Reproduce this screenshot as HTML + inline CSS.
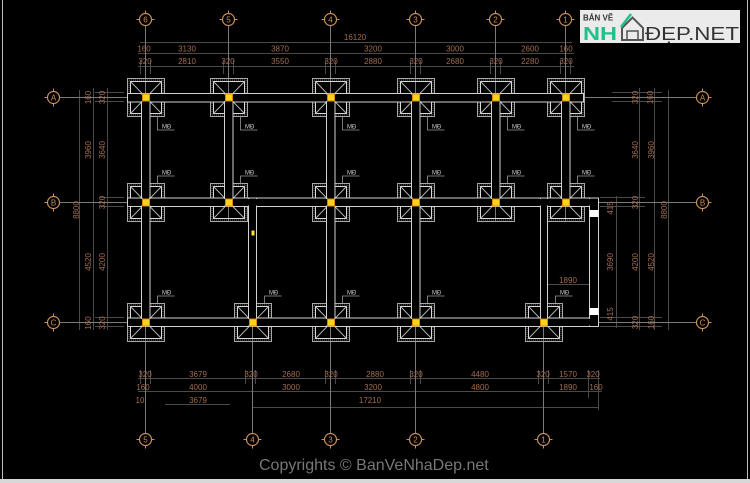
<!DOCTYPE html>
<html><head><meta charset="utf-8"><style>
html,body{margin:0;padding:0;background:#000;}
svg{display:block;}
</style></head><body>
<svg width="750" height="483" viewBox="0 0 750 483" xmlns="http://www.w3.org/2000/svg" font-family="Liberation Sans, sans-serif">
<rect width="750" height="483" fill="#000"/>
<rect x="0" y="479" width="750" height="4" fill="#d8d8d8"/>
<line x1="2.5" y1="0" x2="2.5" y2="479" stroke="#bdbdbd"/>
<line x1="747.5" y1="0" x2="747.5" y2="479" stroke="#bdbdbd"/>

<!-- dimension lines -->
<g stroke="#4a4a4a" stroke-width="1">
<line x1="140" y1="42.5" x2="572" y2="42.5"/>
<line x1="138" y1="53.5" x2="574" y2="53.5"/>
<line x1="138" y1="66.5" x2="574" y2="66.5"/>
<line x1="138" y1="378.5" x2="600" y2="378.5"/>
<line x1="138" y1="391.5" x2="602" y2="391.5"/>
<line x1="165" y1="404.5" x2="230" y2="404.5"/>
<line x1="253" y1="407.5" x2="598" y2="407.5"/>
<line x1="79.5" y1="90" x2="79.5" y2="330"/>
<line x1="93.5" y1="88" x2="93.5" y2="330"/>
<line x1="107.5" y1="88" x2="107.5" y2="330"/>
<line x1="616.5" y1="196" x2="616.5" y2="328"/>
<line x1="639.5" y1="88" x2="639.5" y2="330"/>
<line x1="654.5" y1="88" x2="654.5" y2="330"/>
<line x1="668.5" y1="90" x2="668.5" y2="330"/>
<!-- beam edge extension ticks -->
<line x1="95" y1="92.5" x2="124" y2="92.5"/><line x1="95" y1="101.5" x2="124" y2="101.5"/>
<line x1="100" y1="197.5" x2="124" y2="197.5"/><line x1="100" y1="206.5" x2="124" y2="206.5"/>
<line x1="95" y1="317.5" x2="124" y2="317.5"/><line x1="95" y1="326.5" x2="124" y2="326.5"/>
<line x1="612" y1="92.5" x2="662" y2="92.5"/><line x1="612" y1="101.5" x2="662" y2="101.5"/>
<line x1="600" y1="197.5" x2="645" y2="197.5"/><line x1="600" y1="206.5" x2="645" y2="206.5"/>
<line x1="600" y1="317.5" x2="662" y2="317.5"/><line x1="600" y1="326.5" x2="662" y2="326.5"/>
<!-- column edge ticks top -->
<g>
<line x1="140.5" y1="60" x2="140.5" y2="74"/><line x1="150.5" y1="60" x2="150.5" y2="74"/>
<line x1="223.5" y1="60" x2="223.5" y2="74"/><line x1="233.5" y1="60" x2="233.5" y2="74"/>
<line x1="325.5" y1="60" x2="325.5" y2="74"/><line x1="335.5" y1="60" x2="335.5" y2="74"/>
<line x1="410.5" y1="60" x2="410.5" y2="74"/><line x1="420.5" y1="60" x2="420.5" y2="74"/>
<line x1="490.5" y1="60" x2="490.5" y2="74"/><line x1="500.5" y1="60" x2="500.5" y2="74"/>
<line x1="560.5" y1="60" x2="560.5" y2="74"/><line x1="570.5" y1="60" x2="570.5" y2="74"/>
</g>
<g>
<line x1="140.5" y1="370" x2="140.5" y2="384"/><line x1="150.5" y1="370" x2="150.5" y2="384"/>
<line x1="245.5" y1="370" x2="245.5" y2="384"/><line x1="255.5" y1="370" x2="255.5" y2="384"/>
<line x1="325.5" y1="370" x2="325.5" y2="384"/><line x1="335.5" y1="370" x2="335.5" y2="384"/>
<line x1="410.5" y1="370" x2="410.5" y2="384"/><line x1="420.5" y1="370" x2="420.5" y2="384"/>
<line x1="538.5" y1="370" x2="538.5" y2="384"/><line x1="548.5" y1="370" x2="548.5" y2="384"/>
<line x1="588.5" y1="370" x2="588.5" y2="398"/><line x1="598.5" y1="370" x2="598.5" y2="410"/>
</g>
<!-- 1890 inner dim -->
<line x1="543" y1="284.5" x2="594" y2="284.5"/>
</g>

<!-- axis lines -->
<g stroke="#7a7a7a" stroke-width="1">
<line x1="145.5" y1="25" x2="145.5" y2="433"/>
<line x1="228.5" y1="25" x2="228.5" y2="221"/>
<line x1="330.5" y1="25" x2="330.5" y2="433"/>
<line x1="415.5" y1="25" x2="415.5" y2="433"/>
<line x1="495.5" y1="25" x2="495.5" y2="221"/>
<line x1="565.5" y1="25" x2="565.5" y2="221"/>
<line x1="252.5" y1="207" x2="252.5" y2="433"/>
<line x1="543.5" y1="207" x2="543.5" y2="433"/>
<line x1="59" y1="97.5" x2="696" y2="97.5"/>
<line x1="59" y1="202.5" x2="696" y2="202.5"/>
<line x1="59" y1="322.5" x2="696" y2="322.5"/>
</g>

<!-- axis circles -->
<g stroke="#c8905a" stroke-width="1.2" fill="none">
<circle cx="145.5" cy="19.5" r="6"/><circle cx="228.5" cy="19.5" r="6"/><circle cx="330.5" cy="19.5" r="6"/>
<circle cx="415.5" cy="19.5" r="6"/><circle cx="495.5" cy="19.5" r="6"/><circle cx="565.5" cy="19.5" r="6"/>
<circle cx="145.5" cy="439.5" r="6"/><circle cx="252.5" cy="439.5" r="6"/><circle cx="330.5" cy="439.5" r="6"/>
<circle cx="415.5" cy="439.5" r="6"/><circle cx="543.5" cy="439.5" r="6"/>
<circle cx="53.5" cy="97.5" r="6"/><circle cx="53.5" cy="202.5" r="6"/><circle cx="53.5" cy="322.5" r="6"/>
<circle cx="702.5" cy="97.5" r="6"/><circle cx="702.5" cy="202.5" r="6"/><circle cx="702.5" cy="322.5" r="6"/>
</g>
<g stroke="#c8905a" stroke-width="1">
<path d="M136.5 19.5h3M151.5 19.5h3M145.5 10.5v3 M219.5 19.5h3M234.5 19.5h3M228.5 10.5v3 M321.5 19.5h3M336.5 19.5h3M330.5 10.5v3 M406.5 19.5h3M421.5 19.5h3M415.5 10.5v3 M486.5 19.5h3M501.5 19.5h3M495.5 10.5v3 M556.5 19.5h3M571.5 19.5h3M565.5 10.5v3"/>
<path d="M136.5 439.5h3M151.5 439.5h3M145.5 445.5v3 M243.5 439.5h3M258.5 439.5h3M252.5 445.5v3 M321.5 439.5h3M336.5 439.5h3M330.5 445.5v3 M406.5 439.5h3M421.5 439.5h3M415.5 445.5v3 M534.5 439.5h3M549.5 439.5h3M543.5 445.5v3"/>
<path d="M53.5 88.5v3M53.5 103.5v3M44.5 97.5h3 M53.5 193.5v3M53.5 208.5v3M44.5 202.5h3 M53.5 313.5v3M53.5 328.5v3M44.5 322.5h3"/>
<path d="M702.5 88.5v3M702.5 103.5v3M708.5 97.5h3 M702.5 193.5v3M702.5 208.5v3M708.5 202.5h3 M702.5 313.5v3M702.5 328.5v3M708.5 322.5h3"/>
</g>
<g fill="#c8905a" font-size="8" text-anchor="middle">
<text x="145.5" y="22.5">6</text><text x="228.5" y="22.5">5</text><text x="330.5" y="22.5">4</text>
<text x="415.5" y="22.5">3</text><text x="495.5" y="22.5">2</text><text x="565.5" y="22.5">1</text>
<text x="145.5" y="442.5">5</text><text x="252.5" y="442.5">4</text><text x="330.5" y="442.5">3</text>
<text x="415.5" y="442.5">2</text><text x="543.5" y="442.5">1</text>
<text x="53.5" y="100.5">A</text><text x="53.5" y="205.5">B</text><text x="53.5" y="325.5">C</text>
<text x="702.5" y="100.5">A</text><text x="702.5" y="205.5">B</text><text x="702.5" y="325.5">C</text>
</g>

<!-- dimension texts -->
<g fill="#a06d50" font-size="8" text-anchor="middle">
<text x="355" y="40">16120</text>
<text x="144" y="51.5">160</text><text x="187" y="51.5">3130</text><text x="280" y="51.5">3870</text><text x="373" y="51.5">3200</text><text x="455" y="51.5">3000</text><text x="530" y="51.5">2600</text><text x="566" y="51.5">160</text>
<text x="145" y="64">320</text><text x="187" y="64">2810</text><text x="228" y="64">320</text><text x="280" y="64">3550</text><text x="331" y="64">320</text><text x="373" y="64">2880</text><text x="416" y="64">320</text><text x="455" y="64">2680</text><text x="496" y="64">320</text><text x="530" y="64">2280</text><text x="566" y="64">320</text>
<text x="145" y="377">320</text><text x="198" y="377">3679</text><text x="251" y="377">320</text><text x="291" y="377">2680</text><text x="331" y="377">320</text><text x="375" y="377">2880</text><text x="416" y="377">320</text><text x="480" y="377">4480</text><text x="543" y="377">320</text><text x="568" y="377">1570</text><text x="593" y="377">320</text>
<text x="143" y="390">160</text><text x="198" y="390">4000</text><text x="291" y="390">3000</text><text x="373" y="390">3200</text><text x="480" y="390">4800</text><text x="568" y="390">1890</text><text x="596" y="390">160</text>
<text x="140" y="403">10</text><text x="198" y="403">3679</text><text x="370" y="403">17210</text>
<text x="568" y="283">1890</text>
<text transform="translate(91,97.5) rotate(-90)">160</text>
<text transform="translate(105,97.5) rotate(-90)">320</text>
<text transform="translate(91,150) rotate(-90)">3960</text>
<text transform="translate(105,150) rotate(-90)">3640</text>
<text transform="translate(79,210) rotate(-90)">8800</text>
<text transform="translate(105,202.5) rotate(-90)">320</text>
<text transform="translate(91,262) rotate(-90)">4520</text>
<text transform="translate(105,262) rotate(-90)">4200</text>
<text transform="translate(91,323) rotate(-90)">160</text>
<text transform="translate(105,323) rotate(-90)">320</text>
<text transform="translate(638,97.5) rotate(-90)">320</text>
<text transform="translate(653,97.5) rotate(-90)">160</text>
<text transform="translate(638,150) rotate(-90)">3640</text>
<text transform="translate(654,150) rotate(-90)">3960</text>
<text transform="translate(613,208) rotate(-90)">415</text>
<text transform="translate(638,202.5) rotate(-90)">320</text>
<text transform="translate(667,210) rotate(-90)">8800</text>
<text transform="translate(613,262) rotate(-90)">3690</text>
<text transform="translate(638,262) rotate(-90)">4200</text>
<text transform="translate(654,262) rotate(-90)">4520</text>
<text transform="translate(613,314) rotate(-90)">415</text>
<text transform="translate(638,322.5) rotate(-90)">320</text>
<text transform="translate(654,322.5) rotate(-90)">160</text>
</g>

<!-- footings -->
<defs>
<g id="ft">
<rect x="-18" y="-19" width="37" height="38" fill="none" stroke="#a8a8a8" stroke-width="1"/>
<rect x="-16.5" y="-17.5" width="34" height="35" fill="none" stroke="#6a6a6a" stroke-width="1" stroke-dasharray="1,1"/>
<rect x="-15" y="-16" width="31" height="32" fill="none" stroke="#d8d8d8" stroke-width="1"/>
<path d="M-15 -16L0.5 0M16 -16L0.5 0M-15 16L0.5 0M16 16L0.5 0" stroke="#b8b8b8" stroke-width="0.9"/>
</g>
</defs>
<g>
<use href="#ft" x="145.5" y="97.5"/><use href="#ft" x="228.5" y="97.5"/><use href="#ft" x="330.5" y="97.5"/>
<use href="#ft" x="415.5" y="97.5"/><use href="#ft" x="495.5" y="97.5"/><use href="#ft" x="565.5" y="97.5"/>
<use href="#ft" x="145.5" y="202.5"/><use href="#ft" x="228.5" y="202.5"/><use href="#ft" x="330.5" y="202.5"/>
<use href="#ft" x="415.5" y="202.5"/><use href="#ft" x="495.5" y="202.5"/><use href="#ft" x="565.5" y="202.5"/>
<use href="#ft" x="145.5" y="322.5"/><use href="#ft" x="252.5" y="322.5"/><use href="#ft" x="330.5" y="322.5"/>
<use href="#ft" x="415.5" y="322.5"/><use href="#ft" x="543.5" y="322.5"/>
</g>

<!-- beams -->
<g fill="#000" stroke="#d2d2d2" stroke-width="1">
<rect x="127.5" y="93.5" width="456" height="8.5"/>
<rect x="127.5" y="198" width="471" height="8.5"/>
<rect x="127.5" y="318" width="471" height="8.5"/>
<rect x="141.5" y="93.5" width="8.5" height="113"/>
<rect x="224.5" y="93.5" width="8.5" height="113"/>
<rect x="326.5" y="93.5" width="8.5" height="113"/>
<rect x="411.5" y="93.5" width="8.5" height="113"/>
<rect x="491.5" y="93.5" width="8.5" height="113"/>
<rect x="561.5" y="93.5" width="8.5" height="113"/>
<rect x="141.5" y="198" width="8.5" height="128.5"/>
<rect x="248.5" y="198" width="8" height="128.5"/>
<rect x="326.5" y="198" width="8.5" height="128.5"/>
<rect x="411.5" y="198" width="8.5" height="128.5"/>
<rect x="540.5" y="198" width="7" height="128.5"/>
<rect x="589.5" y="198" width="9" height="128.5"/>
</g>
<g fill="#000">
<rect x="128.5" y="94.5" width="454" height="6.5"/>
<rect x="128.5" y="199" width="469" height="6.5"/>
<rect x="128.5" y="319" width="469" height="6.5"/>
<rect x="142.5" y="94.5" width="6.5" height="111"/>
<rect x="225.5" y="94.5" width="6.5" height="111"/>
<rect x="327.5" y="94.5" width="6.5" height="111"/>
<rect x="412.5" y="94.5" width="6.5" height="111"/>
<rect x="492.5" y="94.5" width="6.5" height="111"/>
<rect x="562.5" y="94.5" width="6.5" height="111"/>
<rect x="142.5" y="199" width="6.5" height="126.5"/>
<rect x="249.5" y="199" width="6" height="126.5"/>
<rect x="327.5" y="199" width="6.5" height="126.5"/>
<rect x="412.5" y="199" width="6.5" height="126.5"/>
<rect x="541.5" y="199" width="5" height="126.5"/>
<rect x="590.5" y="199" width="7" height="126.5"/>
</g>
<rect x="589.5" y="210" width="9" height="7" fill="#fff"/>
<rect x="589.5" y="308" width="9" height="7" fill="#fff"/>
<rect x="251.5" y="230.5" width="3" height="5" fill="#ffe033"/>

<!-- column yellow squares -->
<g fill="#ffd21c" stroke="#d98c00" stroke-width="1">
<rect x="142.5" y="94" width="7" height="7"/><rect x="225.5" y="94" width="7" height="7"/><rect x="327.5" y="94" width="7" height="7"/>
<rect x="412.5" y="94" width="7" height="7"/><rect x="492.5" y="94" width="7" height="7"/><rect x="562.5" y="94" width="7" height="7"/>
<rect x="142.5" y="199" width="7" height="7"/><rect x="225.5" y="199" width="7" height="7"/><rect x="327.5" y="199" width="7" height="7"/>
<rect x="412.5" y="199" width="7" height="7"/><rect x="492.5" y="199" width="7" height="7"/><rect x="562.5" y="199" width="7" height="7"/>
<rect x="142.5" y="319" width="7" height="7"/><rect x="249.5" y="319" width="7" height="7"/><rect x="327.5" y="319" width="7" height="7"/>
<rect x="412.5" y="319" width="7" height="7"/><rect x="540.5" y="319" width="7" height="7"/>
</g>

<!-- MĐ labels -->
<g stroke="#9a9a9a" stroke-width="0.8" fill="none">
<path d="M157.5 116v14h17 M240.5 116v14h17 M342.5 116v14h17 M427.5 116v14h17 M507.5 116v14h17 M577.5 116v14h17"/>
<path d="M157.5 184v-8h17 M240.5 184v-8h17 M342.5 184v-8h17 M427.5 184v-8h17 M507.5 184v-8h17 M577.5 184v-8h17"/>
<path d="M157.5 303v-7h17 M264.5 303v-7h17 M342.5 303v-7h17 M427.5 303v-7h17 M555.5 303v-7h17"/>
</g>
<g fill="#d0d0d0" font-size="6">
<text x="162" y="128.5">MĐ</text><text x="245" y="128.5">MĐ</text><text x="347" y="128.5">MĐ</text><text x="432" y="128.5">MĐ</text><text x="512" y="128.5">MĐ</text><text x="582" y="128.5">MĐ</text>
<text x="162" y="174.5">MĐ</text><text x="245" y="174.5">MĐ</text><text x="347" y="174.5">MĐ</text><text x="432" y="174.5">MĐ</text><text x="512" y="174.5">MĐ</text><text x="582" y="174.5">MĐ</text>
<text x="162" y="294.5">MĐ</text><text x="269" y="294.5">MĐ</text><text x="347" y="294.5">MĐ</text><text x="432" y="294.5">MĐ</text><text x="560" y="294.5">MĐ</text>
</g>

<!-- logo -->
<rect x="580" y="10" width="160" height="33" fill="#ebebeb"/>
<text x="583" y="20.5" font-size="8" font-weight="bold" fill="#333">BẢN VẼ</text>
<text x="583" y="40" font-size="18" font-weight="bold" fill="#22c08a" textLength="34" lengthAdjust="spacingAndGlyphs">NH</text>
<path d="M622 40V28L632.5 17.5L643 28V40Z" fill="none" stroke="#555" stroke-width="2"/>
<path d="M627 40V31h11v9" fill="none" stroke="#555" stroke-width="1.5"/>
<path d="M621 27L631 14" stroke="#22c08a" stroke-width="2.5"/>
<text x="645" y="40" font-size="18" fill="#333" textLength="94" lengthAdjust="spacingAndGlyphs">ĐẸP.NET</text>

<!-- copyright -->
<text x="259" y="470" font-size="16" fill="#777">Copyrights © BanVeNhaDep.net</text>
</svg>
</body></html>
